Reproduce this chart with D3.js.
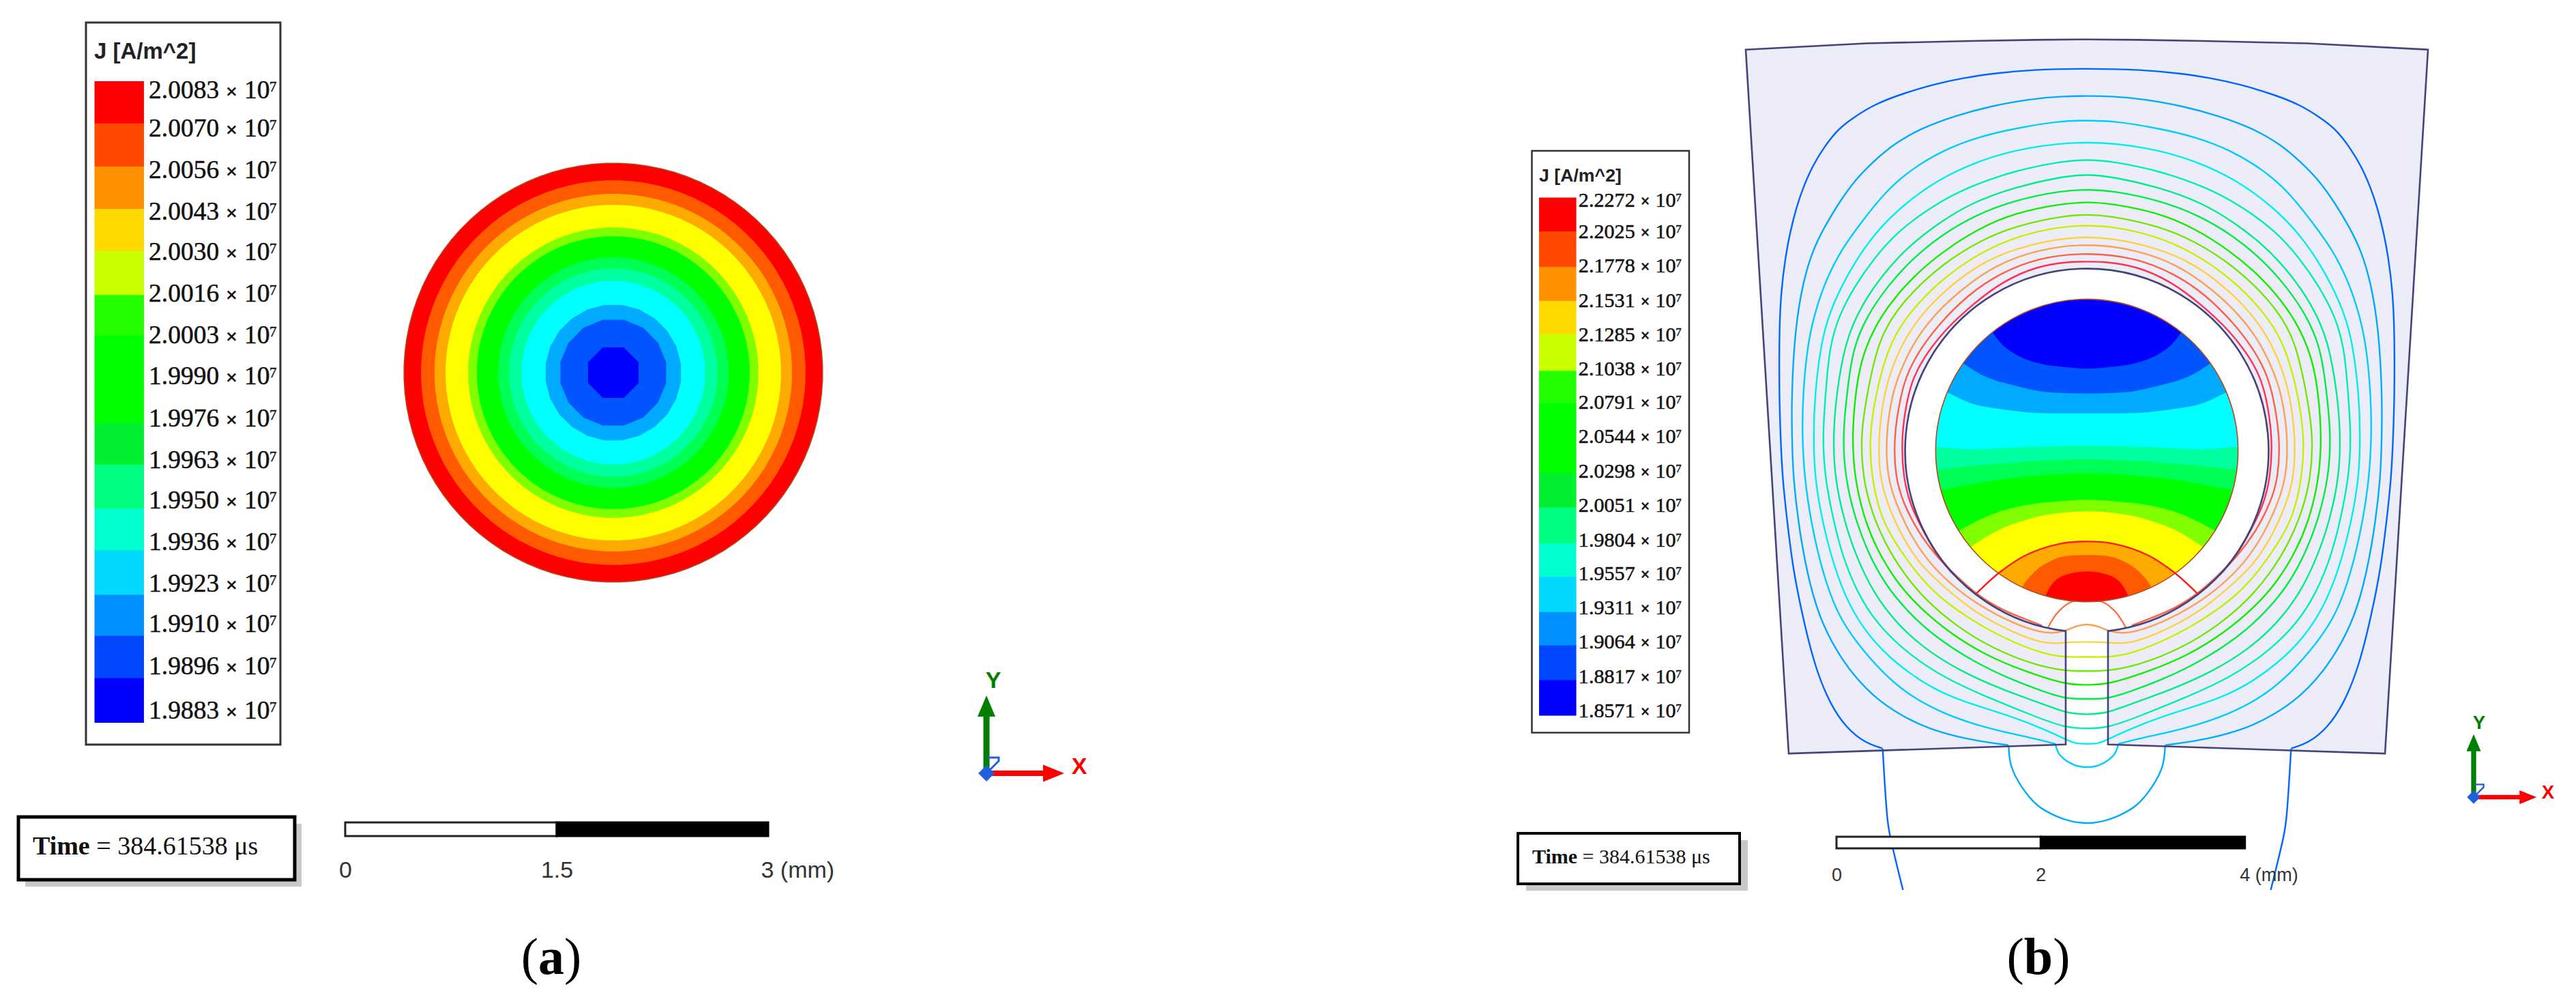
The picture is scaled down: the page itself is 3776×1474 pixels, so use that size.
<!DOCTYPE html>
<html>
<head>
<meta charset="utf-8">
<title>J [A/m^2]</title>
<script src="https://cdn.jsdelivr.net/npm/d3@7"></script>
<style>
  body { margin: 0; background: #fff; }
  svg { display: block; }
</style>
</head>
<body>
<svg id="chart" width="3776" height="1474"></svg>
<script>
// legend values
var legendTitle = "J [A/m^2]";
var valuesA = ["2.0083","2.0070","2.0056","2.0043","2.0030","2.0016","2.0003","1.9990","1.9976","1.9963","1.9950","1.9936","1.9923","1.9910","1.9896","1.9883"];
var valuesB = ["2.2272","2.2025","2.1778","2.1531","2.1285","2.1038","2.0791","2.0544","2.0298","2.0051","1.9804","1.9557","1.9311","1.9064","1.8817","1.8571"];
var legendColors = ["#ff0000","#ff4800","#ff9000","#ffd800","#c8ff00","#24ff00","#00ff00","#00ff00","#00f030","#00ff80","#00ffd0","#00d8ff","#0090ff","#0048ff","#0000ff"];
var timeLabel = "384.61538 \u03bcs";

// panel (a): outer radius of each ring in mm, and how coarse the mesh draws it
var ringColors = ["#ff0000","#ff5a00","#ffaa00","#ffff00","#7fff00","#00ff00","#00ff55","#00ff9f","#00ffff","#00aaff","#0055ff","#0000ff"];
var ringRadii = [1.485,1.364,1.268,1.19,1.03,0.968,0.818,0.74,0.653,0.484,0.382,0.194];
var ringSides = [96,96,96,96,72,72,60,48,36,24,16,8];
var barTicksA = [0,1.5,3];

// panel (b): band edges in the conductor, mm from its centre, left edge to centre line
var bandColors = ["#0000ff","#0055ff","#00aaff","#00ffff","#00ff9f","#00ff55","#00ff00","#7fff00","#ffff00","#ffaa00","#ff5a00","#ff0000"];
var bandEdges = [
  [[-1.6,2.2],[-1.1,1.45],[-0.918,1.147],[-0.84,1.047],[-0.706,0.946],[-0.483,0.857],[-0.261,0.82],[0,0.802]],
  [[-1.6,1.2],[-1.2,0.846],[-1.018,0.735],[-0.706,0.635],[-0.35,0.568],[0,0.557]],
  [[-1.6,0.66],[-1.356,0.563],[-1.151,0.468],[-0.817,0.401],[-0.35,0.363],[0,0.363]],
  [[-1.6,0.03],[-1.474,0.033],[-1.151,0.011],[-0.595,0.033],[0,0.045]],
  [[-1.6,-0.2],[-1.468,-0.189],[-1.151,-0.156],[-0.595,-0.111],[0,-0.089]],
  [[-1.6,-0.43],[-1.43,-0.39],[-1.151,-0.334],[-0.595,-0.256],[0,-0.223]],
  [[-1.5,-0.95],[-1.24,-0.779],[-0.929,-0.624],[-0.595,-0.534],[-0.261,-0.497],[0,-0.483]],
  [[-1.4,-1.15],[-1.122,-0.935],[-0.929,-0.813],[-0.595,-0.679],[-0.261,-0.612],[0,-0.597]],
  [[-1.0,-1.31],[-0.851,-1.191],[-0.595,-1.024],[-0.261,-0.913],[0,-0.891]],
  [[-0.68,-1.45],[-0.624,-1.325],[-0.528,-1.203],[-0.35,-1.08],[-0.171,-1.031],[0,-1.024]],
  [[-0.45,-1.52],[-0.405,-1.421],[-0.327,-1.292],[-0.171,-1.207],[0,-1.185]]
];
var barTicksB = [0,2,4];

// flux contours, left half only, top centre first
var contourColors = ["#0066ff","#00aaff","#00ccff","#00eeee","#00eeb8","#00ee88","#00ee44","#10ee00","#70e800","#c8ee00","#ffd040","#ffa050","#ff6040","#ff3050"];
var contours = [
  [[0,3.74],[-0.547,3.728],[-0.892,3.694],[-1.214,3.647],[-1.513,3.583],[-1.858,3.475],[-2.088,3.383],[-2.272,3.268],[-2.433,3.153],[-2.583,2.957],[-2.686,2.785],[-2.778,2.578],[-2.847,2.371],[-2.905,2.141],[-2.95,1.911],[-2.997,1.543],[-3.013,1.152],[-3.013,0.536],[-3.0,0.134],[-2.982,-0.267],[-2.933,-0.712],[-2.878,-1.158],[-2.789,-1.603],[-2.666,-2.115],[-2.51,-2.494],[-2.354,-2.717],[-2.176,-2.861],[-2.002,-2.917]],
  [[0,3.47],[-0.202,3.47],[-0.569,3.44],[-0.938,3.371],[-1.283,3.279],[-1.628,3.153],[-1.904,2.992],[-2.088,2.831],[-2.272,2.647],[-2.433,2.417],[-2.571,2.187],[-2.686,1.957],[-2.778,1.658],[-2.858,1.197],[-2.893,0.534],[-2.888,0.134],[-2.878,-0.267],[-2.811,-0.824],[-2.711,-1.336],[-2.588,-1.715],[-2.399,-2.049],[-2.243,-2.249],[-2.065,-2.427],[-1.842,-2.583],[-1.553,-2.728],[-1.174,-2.828],[-0.862,-2.873],[-0.77,-2.885]],
  [[0,3.229],[-0.247,3.229],[-0.708,3.153],[-1.053,3.072],[-1.398,2.946],[-1.743,2.739],[-1.996,2.509],[-2.226,2.21],[-2.41,1.957],[-2.548,1.681],[-2.64,1.428],[-2.732,1.083],[-2.783,0.536],[-2.788,0.134],[-2.766,-0.267],[-2.7,-0.712],[-2.588,-1.202],[-2.443,-1.603],[-2.265,-1.87],[-1.998,-2.182],[-1.731,-2.405],[-1.397,-2.583],[-0.951,-2.728],[-0.573,-2.806],[-0.306,-2.873]],
  [[0,3.035],[-0.593,2.969],[-1.053,2.842],[-1.467,2.647],[-1.812,2.394],[-2.088,2.118],[-2.318,1.773],[-2.479,1.451],[-2.594,1.129],[-2.667,0.536],[-2.678,0.134],[-2.666,-0.267],[-2.588,-0.712],[-2.477,-1.136],[-2.332,-1.514],[-2.132,-1.826],[-1.864,-2.093],[-1.508,-2.338],[-1.174,-2.472],[-0.729,-2.605],[-0.395,-2.739],[-0.205,-2.828],[-0.127,-2.868],[0,-2.873]],
  [[0,2.849],[-0.247,2.831],[-0.708,2.739],[-1.168,2.578],[-1.513,2.394],[-1.858,2.141],[-2.088,1.876],[-2.272,1.612],[-2.433,1.313],[-2.525,0.991],[-2.56,0.536],[-2.589,0.134],[-2.566,-0.267],[-2.477,-0.712],[-2.377,-1.091],[-2.199,-1.492],[-1.998,-1.759],[-1.731,-2.004],[-1.397,-2.227],[-0.951,-2.427],[-0.506,-2.605],[-0.205,-2.717],[0,-2.721]],
  [[0,2.704],[-0.247,2.681],[-0.708,2.578],[-1.122,2.428],[-1.444,2.233],[-1.743,2.003],[-1.996,1.727],[-2.203,1.428],[-2.364,1.083],[-2.456,0.536],[-2.485,0.134],[-2.47,-0.267],[-2.377,-0.69],[-2.265,-1.024],[-2.087,-1.403],[-1.864,-1.692],[-1.597,-1.937],[-1.241,-2.16],[-0.84,-2.338],[-0.395,-2.494],[-0.205,-2.572],[0,-2.583]],
  [[0,2.555],[-0.247,2.543],[-0.708,2.451],[-1.099,2.302],[-1.444,2.095],[-1.72,1.865],[-1.95,1.612],[-2.157,1.313],[-2.295,0.991],[-2.352,0.536],[-2.392,0.134],[-2.366,-0.267],[-2.276,-0.646],[-2.154,-0.98],[-1.976,-1.314],[-1.753,-1.581],[-1.486,-1.826],[-1.107,-2.071],[-0.729,-2.249],[-0.395,-2.371],[-0.205,-2.432],[0,-2.432]],
  [[0,2.433],[-0.247,2.417],[-0.708,2.325],[-1.053,2.176],[-1.398,1.957],[-1.674,1.727],[-1.904,1.474],[-2.088,1.198],[-2.215,0.876],[-2.27,0.536],[-2.299,0.134],[-2.276,-0.267],[-2.187,-0.646],[-2.065,-0.957],[-1.864,-1.291],[-1.642,-1.536],[-1.352,-1.781],[-0.996,-2.004],[-0.617,-2.16],[-0.205,-2.294],[0,-2.294]],
  [[0,2.308],[-0.202,2.302],[-0.708,2.198],[-1.053,2.049],[-1.352,1.865],[-1.628,1.635],[-1.858,1.382],[-2.042,1.083],[-2.157,0.536],[-2.217,0.134],[-2.194,-0.267],[-2.109,-0.601],[-1.976,-0.913],[-1.798,-1.202],[-1.575,-1.47],[-1.285,-1.715],[-0.929,-1.937],[-0.506,-2.104],[-0.205,-2.16],[0,-2.16]],
  [[0,2.203],[-0.247,2.194],[-0.662,2.106],[-1.03,1.945],[-1.352,1.727],[-1.605,1.497],[-1.835,1.221],[-1.973,0.922],[-2.07,0.536],[-2.132,0.134],[-2.109,-0.267],[-2.02,-0.646],[-1.887,-0.891],[-1.686,-1.18],[-1.464,-1.425],[-1.152,-1.648],[-0.84,-1.826],[-0.439,-1.993],[-0.205,-2.026],[0,-2.02]],
  [[0,2.122],[-0.593,2.014],[-0.984,1.865],[-1.283,1.658],[-1.559,1.405],[-1.766,1.129],[-1.904,0.83],[-1.99,0.536],[-2.043,0.134],[-2.031,-0.267],[-1.942,-0.557],[-1.798,-0.868],[-1.619,-1.136],[-1.397,-1.336],[-1.107,-1.581],[-0.729,-1.781],[-0.395,-1.904],[-0.205,-1.875],[0,-1.875]],
  [[0,2.03],[-0.478,1.968],[-0.892,1.818],[-1.214,1.589],[-1.49,1.336],[-1.697,1.06],[-1.835,0.761],[-1.91,0.536],[-1.971,0.134],[-1.954,-0.267],[-1.864,-0.534],[-1.731,-0.824],[-1.553,-1.091],[-1.33,-1.314],[-1.063,-1.514],[-0.729,-1.692],[-0.395,-1.804],[-0.205,-1.77],[-0.105,-1.715],[0,-1.703]],
  [[0,1.94],[-0.478,1.888],[-0.867,1.727],[-1.168,1.52],[-1.444,1.243],[-1.651,0.967],[-1.766,0.737],[-1.823,0.536],[-1.893,0.134],[-1.876,-0.267],[-1.798,-0.512],[-1.664,-0.779],[-1.486,-1.024],[-1.285,-1.225],[-1.063,-1.425],[-0.795,-1.581],[-0.55,-1.67],[-0.439,-1.715]],
  [[0,1.848],[-0.179,1.848],[-0.478,1.807],[-0.823,1.658],[-1.122,1.428],[-1.398,1.175],[-1.605,0.899],[-1.697,0.715],[-1.754,0.536],[-1.82,0.134],[-1.798,-0.267],[-1.731,-0.534],[-1.597,-0.801],[-1.441,-1.069],[-1.3,-1.22]]
];
// the outer contour leaves the stator and carries on below it
var exitLine = [[-2.0,-2.92],[-1.953,-3.607],[-1.931,-3.755],[-1.801,-4.303]];
// two contours close in the air under the slot mouth
var mouthArcLarge = [[-0.767,-2.885],[-0.74,-3.09],[-0.64,-3.29],[-0.483,-3.474],[-0.3,-3.58],[-0.15,-3.63],[0,-3.648]];
var mouthArcSmall = [[-0.306,-2.885],[-0.265,-2.98],[-0.127,-3.077],[0,-3.1]];
var gapArc = [[-0.383,-1.737],[-0.282,-1.582],[-0.149,-1.482],[0,-1.47]];
var redArc = [[-1.085,-1.403],[-0.851,-1.191],[-0.595,-1.024],[-0.261,-0.913],[0,-0.891]];
// stator outline, mm
var statorTop = [[-3.341,3.924],[-2.158,3.985],[-1.132,4.009],[-0.5,4.02],[0,4.024]];
var statorBottom = [[-2.92,-2.967],[-0.207,-2.878]];
var slotTop = -1.768;
var holeRadius = 1.78, conductorRadius = 1.481;

var svg = d3.select("#chart");
var serif = "'Liberation Serif', serif", sans = "'Liberation Sans', sans-serif";

function mirror(p) { return [-p[0], p[1]]; }
function bothSides(half) {   // edge -> centre -> other edge
  return half.concat(half.slice(0, -1).reverse().map(mirror));
}

function drawLegend(g, o) {
  g.append("rect").attr("x", o.box[0]).attr("y", o.box[1])
    .attr("width", o.box[2]).attr("height", o.box[3])
    .style("fill", "#fff").style("stroke", "#333").style("stroke-width", o.border);
  g.append("text").attr("x", o.titleX).attr("y", o.titleY).text(legendTitle)
    .style("font", "bold " + o.titleSize + "px " + sans).style("fill", "#222");

  var edge = d3.scaleLinear().domain(d3.range(o.edges.length)).range(o.edges);
  g.selectAll("rect.swatch").data(legendColors).enter().append("rect")
    .attr("class", "swatch")
    .attr("x", o.swatchX[0])
    .attr("width", o.swatchX[1] - o.swatchX[0])
    .attr("y", function (d, i) { return edge(i); })
    .attr("height", function (d, i) { return edge(i + 1) - edge(i) + 0.5; })
    .style("fill", function (d) { return d; });

  var labelY = d3.scaleOrdinal().domain(o.values).range(o.labelY);
  var k = o.k;
  var t = g.selectAll("text.tick").data(o.values).enter().append("text")
    .attr("class", "tick")
    .attr("y", function (d) { return labelY(d) + 12.5 * k; })
    .style("font-family", serif).style("font-size", (37.5 * k) + "px")
    .style("fill", "#111").style("stroke", "#111").style("stroke-width", 0.5);
  t.append("tspan").attr("x", o.labelX).text(function (d) { return d; });
  t.append("tspan").attr("x", o.labelX + 113 * k).style("font-size", (30 * k) + "px")
    .style("font-weight", "bold").text("\u00d7");
  t.append("tspan").attr("x", o.labelX + 140 * k).text("10");
  t.append("tspan").attr("x", o.labelX + 177 * k).attr("dy", -10 * k)
    .style("font-size", (21 * k) + "px").text("7");
}

function drawTime(g, o) {
  g.append("rect").attr("x", o.box[0] + o.shadow[0]).attr("y", o.box[1] + o.shadow[1])
    .attr("width", o.box[2]).attr("height", o.box[3]).style("fill", "#c8c8c8");
  g.append("rect").attr("x", o.box[0]).attr("y", o.box[1])
    .attr("width", o.box[2]).attr("height", o.box[3])
    .style("fill", "#fff").style("stroke", "#000").style("stroke-width", o.border);
  var t = g.append("text").attr("x", o.textX).attr("y", o.textY)
    .style("font-family", serif).style("font-size", o.size + "px").style("fill", "#111");
  t.append("tspan").style("font-weight", "bold").text("Time");
  t.append("tspan").text(" = " + timeLabel);
}

function drawBar(g, o) {
  var x = d3.scaleLinear().domain([o.ticks[0], o.ticks[2]]).range(o.range);
  var h = o.height;
  g.append("rect").attr("x", x(o.ticks[0])).attr("y", o.y)
    .attr("width", x(o.ticks[1]) - x(o.ticks[0])).attr("height", h)
    .style("fill", "#fff").style("stroke", "#222").style("stroke-width", 3);
  g.append("rect").attr("x", x(o.ticks[1])).attr("y", o.y)
    .attr("width", x(o.ticks[2]) - x(o.ticks[1])).attr("height", h)
    .style("fill", "#000").style("stroke", "#000").style("stroke-width", 3);

  var axis = d3.axisBottom(x).tickValues(o.ticks).tickSize(0).tickPadding(0)
    .tickFormat(function (d) { return d === o.ticks[2] ? d + " (mm)" : d; });
  var a = g.append("g").attr("transform", "translate(0," + o.labelY + ")").call(axis);
  a.select(".domain").remove();
  a.selectAll("text").attr("dy", 0).attr("y", 0)
    .style("font-family", sans).style("font-size", o.size + "px").style("fill", "#333");
  a.selectAll(".tick:last-of-type text").attr("text-anchor", "start").attr("x", o.lastDx);
}

function drawTriad(g, ox, oy, s, yLabel, xLabel) {
  var t = g.append("g").attr("transform", "translate(" + ox + "," + oy + ") scale(" + s + ")");
  t.append("rect").attr("x", -4.5).attr("y", -90).attr("width", 9).attr("height", 90).style("fill", "#008000");
  t.append("polygon").attr("points", "0,-114 13,-83 -13,-83").style("fill", "#008000");
  t.append("rect").attr("x", 0).attr("y", -4).attr("width", 90).attr("height", 8).style("fill", "#ff0000");
  t.append("polygon").attr("points", "114,0 83,-12.5 83,12.5").style("fill", "#ff0000");
  t.append("polyline").attr("points", "2,-23 18,-23 18,-18 5,-5").style("fill", "none").style("stroke", "#2060e0").style("stroke-width", 3);
  t.append("polygon").attr("points", "0,-12 12,0 0,12 -12,0").style("fill", "#2060e0");
  g.append("text").attr("x", yLabel[0]).attr("y", yLabel[1]).attr("text-anchor", "middle").text("Y")
    .style("font", "bold " + (34 * s) + "px " + sans).style("fill", "#008000");
  g.append("text").attr("x", xLabel[0]).attr("y", xLabel[1]).attr("text-anchor", "middle").text("X")
    .style("font", "bold " + (34 * s) + "px " + sans).style("fill", "#ff0000");
}

function panelLabel(x, letter) {
  var t = svg.append("text").attr("x", x).attr("y", 1427).attr("text-anchor", "middle")
    .style("font-family", serif).style("font-size", "76px").style("fill", "#000");
  t.append("tspan").text("(");
  t.append("tspan").style("font-weight", "bold").text(letter);
  t.append("tspan").text(")");
}

// ---- panel (a)
var a = svg.append("g");
drawLegend(a, {
  box: [126, 33, 285, 1058], border: 3, titleX: 138, titleY: 86, titleSize: 33,
  swatchX: [138.5, 211], values: valuesA, k: 1, labelX: 218,
  edges: [119,180.7,244,306,367.5,432.4,491.6,555,620.4,680.6,745.4,806.5,871.4,931.6,993.6,1058.5],
  labelY: [131.6,187,248,309,368.5,429.6,490.7,550,612,673,732,793,854.5,913.7,975.8,1040.6]
});
drawTime(a, { box: [27, 1197, 405, 92], shadow: [10, 10], border: 5, textX: 48, textY: 1252, size: 38 });
drawBar(a, { ticks: barTicksA, range: [506, 1126], y: 1205, height: 20, labelY: 1286, size: 34, lastDx: -11 });
drawTriad(a, 1446, 1133, 1, [1456, 1008], [1582, 1134]);

var mmA = d3.scaleLinear().domain([0, 3]).range([0, 620]);
var disc = a.append("g").attr("transform", "translate(899,546)");
var ring = d3.lineRadial().curve(d3.curveLinearClosed)
  .angle(function (d) { return d[0]; }).radius(function (d) { return d[1]; });
disc.selectAll("path").data(ringRadii).enter().append("path")
  .attr("d", function (r, i) {
    var n = ringSides[i];
    return ring(d3.range(n).map(function (j) { return [(j + 0.5) * 2 * Math.PI / n, mmA(r)]; }));
  })
  .style("fill", function (d, i) { return ringColors[i]; })
  .style("stroke", function (d, i) { return i === 0 ? "#b04a20" : "none"; })
  .style("stroke-width", 1.5);

panelLabel(808, "a");

// ---- panel (b)
var b = svg.append("g");
var pxPerMm = 149.67;
var fx = d3.scaleLinear().domain([-1, 1]).range([3059 - pxPerMm, 3059 + pxPerMm]);
var fy = d3.scaleLinear().domain([-1, 1]).range([660 + pxPerMm, 660 - pxPerMm]);
var contourLine = d3.line().curve(d3.curveBasis)
  .x(function (d) { return fx(d[0]); }).y(function (d) { return fy(d[1]); });
var arcLine = d3.line().curve(d3.curveCatmullRom)
  .x(function (d) { return fx(d[0]); }).y(function (d) { return fy(d[1]); });

// stator: outer edge, slot and bore
var stator = d3.path();
var corner = Math.atan2(fy(slotTop) - fy(0), fx(-statorBottom[1][0]) - fx(0));
var boreR = fx(holeRadius) - fx(0);
statorTop.concat(statorTop.slice(0, -1).reverse().map(mirror)).forEach(function (p, i) {
  if (i === 0) stator.moveTo(fx(p[0]), fy(p[1])); else stator.lineTo(fx(p[0]), fy(p[1]));
});
statorBottom.map(mirror).forEach(function (p) { stator.lineTo(fx(p[0]), fy(p[1])); });
stator.lineTo(fx(-statorBottom[1][0]), fy(slotTop));
stator.arc(fx(0), fy(0), boreR, corner, Math.PI - corner, true);
stator.lineTo(fx(statorBottom[1][0]), fy(statorBottom[1][1]));
stator.lineTo(fx(statorBottom[0][0]), fy(statorBottom[0][1]));
stator.closePath();

b.append("path").attr("d", stator.toString()).style("fill", "#ecedf9");

b.selectAll("path.contour").data(contours).enter().append("path")
  .attr("class", "contour")
  .attr("d", function (half) {
    return contourLine(half.slice().reverse().concat(half.slice(1).map(mirror)));
  })
  .style("fill", "none")
  .style("stroke", function (d, i) { return contourColors[i]; })
  .style("stroke-width", 2.4);

[exitLine, exitLine.map(mirror)].forEach(function (pts) {
  b.append("path").attr("d", arcLine(pts)).style("fill", "none")
    .style("stroke", contourColors[0]).style("stroke-width", 2.4);
});
b.append("path").attr("d", arcLine(bothSides(mouthArcLarge))).style("fill", "none")
  .style("stroke", contourColors[1]).style("stroke-width", 2.4);
b.append("path").attr("d", arcLine(bothSides(mouthArcSmall))).style("fill", "none")
  .style("stroke", contourColors[2]).style("stroke-width", 2.4);

b.append("path").attr("d", arcLine(bothSides(gapArc))).style("fill", "none")
  .style("stroke", "#ff6a3a").style("stroke-width", 2.2);

b.append("path").attr("d", stator.toString())
  .style("fill", "none").style("stroke", "#44447a").style("stroke-width", 2.6);

// conductor: paint top band first, each band below the previous edge
var rPx = fx(conductorRadius) - fx(0);
var defs = svg.append("defs");
defs.append("clipPath").attr("id", "conductor").append("circle")
  .attr("cx", fx(0)).attr("cy", fy(0)).attr("r", rPx);
var bands = b.append("g").attr("clip-path", "url(#conductor)");
bands.append("circle").attr("cx", fx(0)).attr("cy", fy(0)).attr("r", rPx).style("fill", bandColors[0]);
var band = d3.area().curve(d3.curveMonotoneX)
  .x(function (d) { return fx(d[0]); })
  .y0(fy(-2)).y1(function (d) { return fy(d[1]); });
bands.selectAll("path").data(bandEdges).enter().append("path")
  .attr("d", function (e) { return band(bothSides(e)); })
  .style("fill", function (d, i) { return bandColors[i + 1]; });
b.append("circle").attr("cx", fx(0)).attr("cy", fy(0)).attr("r", rPx)
  .style("fill", "none").style("stroke", "#b04a20").style("stroke-width", 1.6);
b.append("path").attr("d", arcLine(bothSides(redArc))).style("fill", "none")
  .style("stroke", "#ff1a1a").style("stroke-width", 2.4);

drawLegend(b, {
  box: [2245.5, 221, 230.5, 852.5], border: 2.5, titleX: 2256, titleY: 266, titleSize: 26.7,
  swatchX: [2256, 2310.6], values: valuesB, k: 0.805, labelX: 2313.8,
  edges: [289.5,339.3,391,440.9,489.8,543.3,590.3,643.9,693.7,743.6,796.2,845.1,896.8,945.7,996.4,1048.1],
  labelY: [293.3,339.3,389.2,439.9,489.8,539.6,589.4,639.2,690,739.8,790.6,840.4,890.2,940,990.8,1040.6]
});
drawTime(b, { box: [2225, 1221, 325, 74], shadow: [12, 10], border: 4, textX: 2246, textY: 1265, size: 30 });
drawBar(b, { ticks: barTicksB, range: [2692, 3290.7], y: 1226, height: 17, labelY: 1291, size: 27, lastDx: -8 });
drawTriad(b, 3626, 1168, 0.81, [3634, 1068], [3735, 1170]);
panelLabel(2988, "b");
</script>
</body>
</html>
